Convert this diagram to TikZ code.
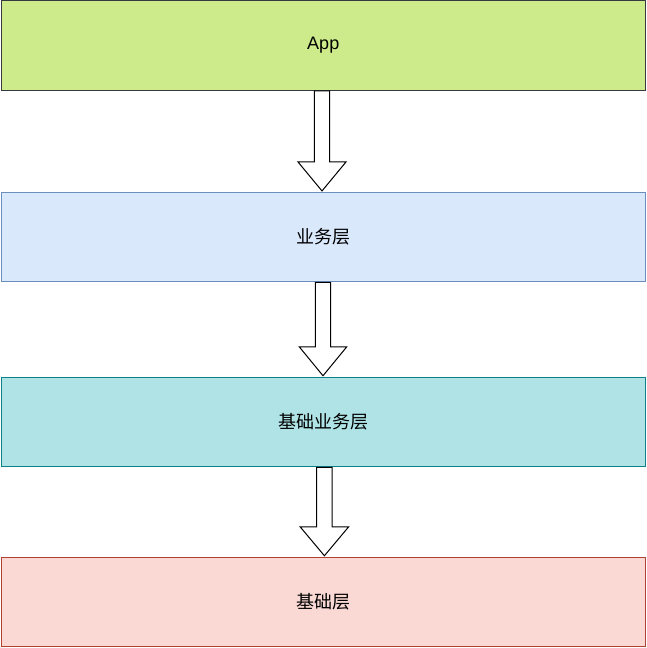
\documentclass[tikz,border=0pt]{standalone}
\usepackage{fontspec}
\setmainfont{Liberation Sans}
\newfontfamily\cjk{Noto Sans CJK SC}
\usetikzlibrary{calc}
\definecolor{appfill}{HTML}{CDEB8B}
\definecolor{appdraw}{HTML}{36393D}
\definecolor{bizfill}{HTML}{DAE8FC}
\definecolor{bizdraw}{HTML}{6C8EBF}
\definecolor{basebizfill}{HTML}{B0E3E6}
\definecolor{basebizdraw}{HTML}{0E8088}
\definecolor{basefill}{HTML}{FAD9D5}
\definecolor{basedraw}{HTML}{AE4132}
\newcommand\blkarrow[5]{%
  \draw[blockarrow] let \p1=(#1.south), \p2=(#2.north) in
    ({#3pt-#4pt},{\y1}) -- ({#3pt-#4pt},{\y2+30pt}) -- ({#3pt-#5pt},{\y2+30pt})
    -- ({#3pt},{\y2+1pt}) -- ({#3pt+#5pt},{\y2+30pt}) -- ({#3pt+#4pt},{\y2+30pt})
    -- ({#3pt+#4pt},{\y1}) -- cycle;}
\begin{document}
\begin{tikzpicture}[x=1pt,y=-1pt,
  layer/.style={draw, line width=1pt, minimum width=644.5pt, minimum height=89.5pt,
    inner sep=0pt, font=\fontsize{18}{21}\selectfont},
  blockarrow/.style={draw=black, fill=white, line width=1pt, line join=miter}]
\useasboundingbox (0,0) rectangle (647,648);
\node[layer, fill=appfill, draw=appdraw] (app) at (323.25,45.5) {App};
\node[layer, fill=bizfill, draw=bizdraw] (biz) at (323.25,237.2) {\cjk 业务层};
\node[layer, fill=basebizfill, draw=basebizdraw] (basebiz) at (323.25,422) {\cjk 基础业务层};
\node[layer, fill=basefill, draw=basedraw] (base) at (323.25,602) {\cjk 基础层};
\blkarrow{app}{biz}{322}{7.6}{24}
\blkarrow{biz}{basebiz}{323}{7.7}{23.8}
\blkarrow{basebiz}{base}{324.4}{7.7}{24.3}
\end{tikzpicture}
\end{document}
